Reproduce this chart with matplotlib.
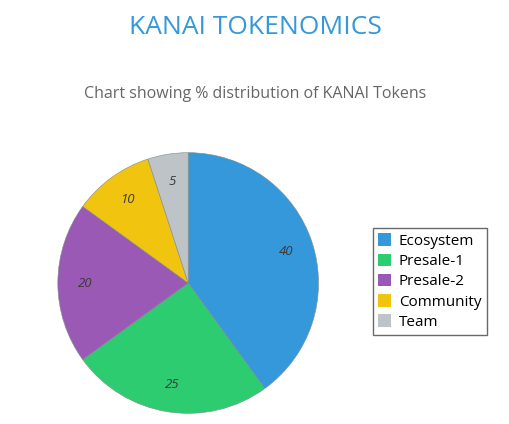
import matplotlib.pyplot as plt

# Données
categories = ['Ecosystem', 'Presale-1', 'Presale-2', 'Community', 'Team']
valeurs = [40, 25, 20, 10, 5]
couleurs = ['#3498db', '#2ecc71', '#9b59b6', '#f1c40f', '#bdc3c7']

plt.rcParams['font.family'] = ['Open Sans', 'DejaVu Sans']

fig = plt.figure(figsize=(5.1, 4.24), dpi=100)
ax = fig.add_axes([0.112, 0.0235, 0.514, 0.618])

wedges, _, autotexts = ax.pie(
    valeurs, colors=couleurs, startangle=90, counterclock=False,
    autopct=lambda p: f'{p:.0f}', pctdistance=0.79,
    wedgeprops={'edgecolor': '#7f8c8d', 'linewidth': 0.4},
    textprops={'fontsize': 9.5, 'style': 'italic', 'color': '#3a3a3a'})
ax.set_aspect('equal')
ax.set_xlim(-1.005, 1.005)
ax.set_ylim(-1.005, 1.005)

fig.text(0.5, 1 - 28 / 424, 'KANAI TOKENOMICS', ha='center', va='center',
         fontsize=19, color='#3498db')
fig.text(0.5, 1 - 94 / 424, 'Chart showing % distribution of KANAI Tokens',
         ha='center', va='center', fontsize=11.5, color='#666666')

leg = fig.legend(wedges, categories, loc='upper left',
                 bbox_to_anchor=(373 / 510, 1 - 228 / 424),
                 fontsize=11, frameon=True, fancybox=False,
                 handlelength=0.85, handleheight=0.9, handletextpad=0.5,
                 labelspacing=0.3, borderpad=0.35, borderaxespad=0)
leg.get_frame().set_edgecolor('#444444')
leg.get_frame().set_linewidth(1.0)
for h in leg.legend_handles:
    h.set_edgecolor('none')

fig.savefig('out.png', dpi=100)
